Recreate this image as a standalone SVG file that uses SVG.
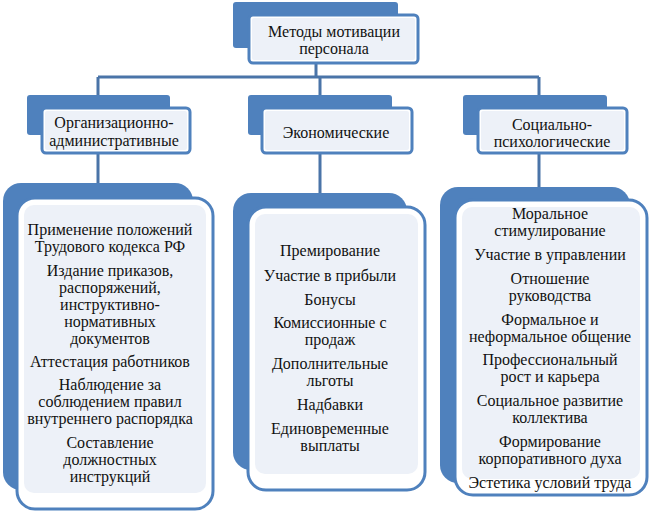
<svg xmlns="http://www.w3.org/2000/svg" width="650" height="512" viewBox="0 0 650 512">
<style>
.back{fill:#4f81bd}
.front{fill:#ffffff;stroke:#4f81bd;stroke-width:3}
.inner{fill:#edf1f8}
.conn{fill:none;stroke:#4a74a8;stroke-width:3}
.t{font-family:'Liberation Serif','Times New Roman',serif;font-size:16px;fill:#111;text-anchor:middle}
</style>
<rect width="650" height="512" fill="#ffffff"/>
<g id="connectors">
<path class="conn" d="M316 63 V77 M98 77 H539 M98 77 V108 M320 77 V108 M539 77 V108"/>
<path class="conn" d="M98 153 V198 M320 153 V207 M539 153 V200"/>
</g>
<g id="top" class="t">
<rect class="back" x="233" y="2" width="165" height="46" rx="3"/>
<rect class="front" x="249" y="15" width="169" height="48" rx="4"/>
<rect class="inner" x="252" y="18" width="163" height="42" rx="2"/>
<text x="334" y="37">Методы мотивации</text>
<text x="334" y="54">персонала</text>
</g>
<g id="org" class="t">
<rect class="back" x="27" y="95" width="143" height="40" rx="3"/>
<rect class="front" x="42" y="108" width="148" height="45" rx="4"/>
<rect class="inner" x="45" y="111" width="142" height="39" rx="2"/>
<text x="114" y="128">Организационно-</text>
<text x="114" y="146">административные</text>
</g>
<g id="econ" class="t">
<rect class="back" x="248" y="95" width="144" height="40" rx="3"/>
<rect class="front" x="262" y="108" width="150" height="45" rx="4"/>
<rect class="inner" x="265" y="111" width="144" height="39" rx="2"/>
<text x="336" y="138">Экономические</text>
</g>
<g id="soc" class="t">
<rect class="back" x="463" y="95" width="144" height="40" rx="3"/>
<rect class="front" x="478" y="108" width="149" height="45" rx="4"/>
<rect class="inner" x="481" y="111" width="143" height="39" rx="2"/>
<text x="552" y="130">Социально-</text>
<text x="552" y="147">психологические</text>
</g>
<g id="org-list" class="t">
<rect class="back" x="3" y="183" width="190" height="307" rx="18"/>
<rect class="front" x="17" y="198" width="196" height="311" rx="18"/>
<rect class="inner" x="24" y="205" width="182" height="288" rx="10"/>
<text x="110" y="235">Применение положений</text>
<text x="110" y="252">Трудового кодекса РФ</text>
<text x="110" y="276">Издание приказов,</text>
<text x="110" y="293">распоряжений,</text>
<text x="110" y="310">инструктивно-</text>
<text x="110" y="327">нормативных</text>
<text x="110" y="344">документов</text>
<text x="110" y="367">Аттестация работников</text>
<text x="110" y="390">Наблюдение за</text>
<text x="110" y="407">соблюдением правил</text>
<text x="110" y="424">внутреннего распорядка</text>
<text x="110" y="448">Составление</text>
<text x="110" y="465">должностных</text>
<text x="110" y="482">инструкций</text>
</g>
<g id="econ-list" class="t">
<rect class="back" x="233" y="193" width="174" height="277" rx="18"/>
<rect class="front" x="248" y="207" width="177" height="283" rx="18"/>
<rect class="inner" x="255" y="214" width="163" height="260" rx="10"/>
<text x="330" y="256">Премирование</text>
<text x="330" y="281">Участие в прибыли</text>
<text x="330" y="305">Бонусы</text>
<text x="330" y="328">Комиссионные с</text>
<text x="330" y="345">продаж</text>
<text x="330" y="369">Дополнительные</text>
<text x="330" y="386">льготы</text>
<text x="330" y="410">Надбавки</text>
<text x="330" y="434">Единовременные</text>
<text x="330" y="451">выплаты</text>
</g>
<g id="soc-list" class="t">
<rect class="back" x="440" y="187" width="190" height="296" rx="18"/>
<rect class="front" x="455" y="200" width="192" height="295" rx="18"/>
<rect class="inner" x="462" y="207" width="178" height="272" rx="10"/>
<text x="550" y="219">Моральное</text>
<text x="550" y="236">стимулирование</text>
<text x="550" y="260">Участие в управлении</text>
<text x="550" y="284">Отношение</text>
<text x="550" y="301">руководства</text>
<text x="550" y="325">Формальное и</text>
<text x="550" y="342">неформальное общение</text>
<text x="550" y="365">Профессиональный</text>
<text x="550" y="382">рост и карьера</text>
<text x="550" y="406">Социальное развитие</text>
<text x="550" y="423">коллектива</text>
<text x="550" y="447">Формирование</text>
<text x="550" y="464">корпоративного духа</text>
<text x="550" y="488">Эстетика условий труда</text>
</g>
</svg>
